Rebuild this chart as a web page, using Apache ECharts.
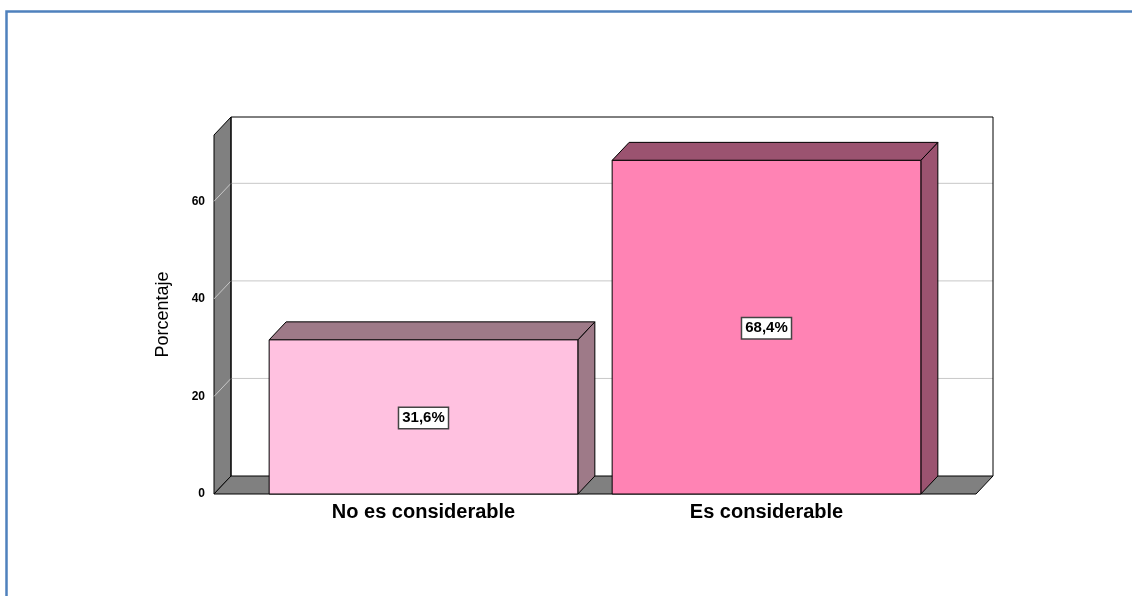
<!DOCTYPE html>
<html>
<head>
<meta charset="utf-8">
<script src="https://cdn.jsdelivr.net/npm/echarts@6/dist/echarts.min.js"></script>
<style>
  html, body {margin: 0; padding: 0; background: #fff;}
  #chart {width: 1132px; height: 596px;}
</style>
</head>
<body>
<div id="chart"></div>
<script>
// datos del gráfico
const categorias = ['No es considerable', 'Es considerable']
const porcentajes = [31.6, 68.4]
const ticksY = [0, 20, 40, 60]
const coloresFrente = ['#FFC1E0', '#FF83B4']
const coloresLado = ['#9E7A88', '#9B5370']

const DX = 17 // profundidad 3D
const DY = -18
const PAD = 38 // margen de las paredes fuera de la rejilla
const FONT = 'Arial, "Liberation Sans", sans-serif'

const fmt = (v) => v.toFixed(1).replace('.', ',') + '%'

const chart = echarts.init(document.getElementById('chart'))

// paredes, suelo y líneas de rejilla
const renderParedes = (params, api) => {
  const cs = params.coordSys
  const l = cs.x - PAD
  const r = cs.x + cs.width + PAD
  const b = api.coord([0, 0])[1]
  const t = cs.y
  const line = {stroke: '#000', lineWidth: 1}
  const kids = [
    // fondo
    {type: 'rect', shape: {x: l + DX, y: t + DY, width: r - l, height: b - t}, style: {fill: '#fff', stroke: null}},
    // pared izquierda
    {type: 'polygon', shape: {points: [[l, t], [l + DX, t + DY], [l + DX, b + DY], [l, b]]}, style: {fill: '#808080', ...line}},
    // suelo
    {type: 'polygon', shape: {points: [[l, b], [l + DX, b + DY], [r + DX, b + DY], [r, b]]}, style: {fill: '#808080', ...line}},
  ]
  ticksY.forEach((v) => {
    if (v === 0) return
    const y = api.coord([0, v])[1]
    kids.push({type: 'polyline', shape: {points: [[l, y], [l + DX, y + DY], [r + DX, y + DY]]}, style: {stroke: '#C8C8C8', lineWidth: 1, fill: null}})
  })
  // borde superior y derecho del fondo
  kids.push({type: 'polyline', shape: {points: [[l + DX, b + DY], [l + DX, t + DY], [r + DX, t + DY], [r + DX, b + DY]]}, style: {fill: null, ...line}})
  return {type: 'group', children: kids}
}

// barras 3D
const renderBarra = (params, api) => {
  const i = api.value(0)
  const v = api.value(1)
  const [cx, y1] = api.coord([i, v])
  const y0 = api.coord([i, 0])[1]
  const w = api.size([1, 0])[0] * 0.9
  const x0 = cx - w / 2
  const x1 = cx + w / 2
  const line = {stroke: '#000', lineWidth: 1}
  return {
    type: 'group',
    children: [
      {type: 'polygon', shape: {points: [[x1, y1], [x1 + DX, y1 + DY], [x1 + DX, y0 + DY], [x1, y0]]}, style: {fill: coloresLado[i], ...line}},
      {type: 'polygon', shape: {points: [[x0, y1], [x0 + DX, y1 + DY], [x1 + DX, y1 + DY], [x1, y1]]}, style: {fill: coloresLado[i], ...line}},
      {type: 'rect', shape: {x: x0, y: y1, width: w, height: y0 - y1}, style: {fill: coloresFrente[i], ...line}},
      {
        type: 'text',
        style: {
          text: fmt(v), x: cx, y: (y0 + y1) / 2 + 1, align: 'center', verticalAlign: 'middle',
          font: 'bold 15px ' + FONT, fill: '#000',
          backgroundColor: '#fff', borderColor: '#444', borderWidth: 1.5, padding: [3, 3, 2, 3],
        },
      },
    ],
  }
}

chart.setOption({
  animation: false,
  backgroundColor: '#fff',
  graphic: [
    {type: 'polyline', shape: {points: [[6.5, 600], [6.5, 11.5], [1140, 11.5]]}, style: {stroke: '#4F81BD', lineWidth: 2.5, fill: null}},
  ],
  grid: {left: 252, right: 194, top: 135, bottom: 102},
  xAxis: {
    type: 'category',
    data: categorias,
    axisLine: {show: false},
    axisTick: {show: false},
    axisLabel: {margin: 8, color: '#000', fontFamily: FONT, fontWeight: 'bold', fontSize: 20},
  },
  yAxis: {
    type: 'value',
    min: 0,
    max: 73.6,
    interval: 20,
    offset: 38,
    name: 'Porcentaje',
    nameLocation: 'middle',
    nameGap: 42,
    nameTextStyle: {color: '#000', fontFamily: FONT, fontSize: 18},
    axisLine: {show: false},
    axisTick: {show: false},
    splitLine: {show: false},
    axisLabel: {margin: 9, showMaxLabel: false, color: '#000', fontFamily: FONT, fontWeight: 'bold', fontSize: 12, padding: [6, 0, 0, 0]},
  },
  series: [
    {type: 'custom', renderItem: renderParedes, data: [[0, 0]], silent: true, z: 1},
    {type: 'custom', renderItem: renderBarra, data: porcentajes.map((v, i) => [i, v]), z: 2},
  ],
})
</script>
</body>
</html>
